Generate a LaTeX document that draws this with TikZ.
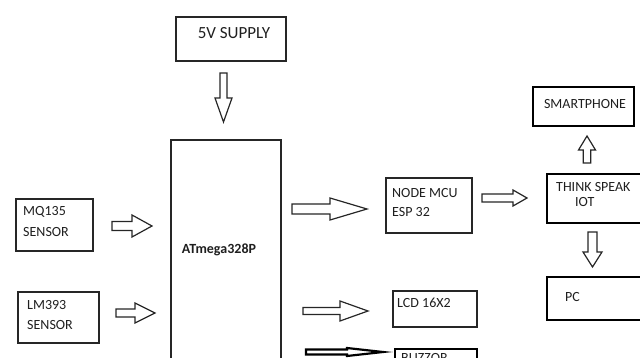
\documentclass[tikz,border=0pt]{standalone}
\usepackage{fontspec}
\setmainfont{Carlito}
\begin{document}
\begin{tikzpicture}[x=1pt,y=-1pt,
  box/.style={draw=black!85,line width=1.2pt},
  tbox/.style={draw=black,line width=2.2pt},
  arr/.style={draw=black!85,line width=1.2pt,fill=white,line join=miter},
  lbl/.style={inner sep=0pt,text=black!88,font=\fontsize{14}{17}\selectfont,anchor=west,align=left}]
\useasboundingbox (0,0) rectangle (640,358);
\clip (0,0) rectangle (640,358);
\newcommand{\blockR}[7][arr]{\draw[#1] (#2,#3-#6) -- (#4,#3-#6) -- (#4,#3-#7) -- (#5,#3) -- (#4,#3+#7) -- (#4,#3+#6) -- (#2,#3+#6) -- cycle;}
\newcommand{\blockV}[6]{\draw[arr] (#1-#5,#2) -- (#1-#5,#3) -- (#1-#6,#3) -- (#1,#4) -- (#1+#6,#3) -- (#1+#5,#3) -- (#1+#5,#2) -- cycle;}
% boxes
\draw[box] (176,17) rectangle (286,61);
\node[lbl,anchor=center,font=\fontsize{17}{20}\selectfont] (sup) at (234,33) {5V SUPPLY};
\draw[box] (16,199) rectangle (93,251);
\node[lbl] (mq) at (23,212) {MQ135};
\node[lbl] (mq2) at (23,232) {SENSOR};
\draw[box] (18,292) rectangle (99,343);
\node[lbl] (lm) at (27,305) {LM393};
\node[lbl] (lm2) at (27,325) {SENSOR};
\draw[box] (171,140) rectangle (281,372);
\node[lbl,anchor=center,font=\fontsize{14}{17}\selectfont\bfseries] (at) at (219,250) {ATmega328P};
\draw[box] (386,178) rectangle (472,233);
\node[lbl] (nm) at (392,193) {NODE MCU};
\node[lbl] (nm2) at (392,212) {ESP 32};
\draw[box] (393,291) rectangle (477,327);
\node[lbl] (lcd) at (397,303) {LCD 16X2};
\draw[tbox] (395,349) rectangle (477,385);
\node[lbl] (bz) at (401,358) {BUZZOR};
\draw[tbox] (533,87) rectangle (634,126);
\node[lbl,anchor=center] (sp) at (585,104) {SMARTPHONE};
\draw[tbox] (547,174) rectangle (660,223);
\node[lbl] (ts) at (556,187) {THINK SPEAK};
\node[lbl] (ts2) at (575,202) {IOT};
\draw[tbox] (547,277) rectangle (660,320);
\node[lbl] (pc) at (565,297) {PC};
% block arrows
\blockV{223.5}{73}{98}{122}{3.5}{8.5}
\blockR{112}{226}{132}{152}{4.5}{11}
\blockR{116}{313}{135}{155}{4}{10}
\blockR{292}{209}{330}{367}{5}{11}
\blockR{303}{311}{340}{368}{3.5}{10}
\blockR[arr,draw=black,line width=2.2pt]{306}{352}{347}{383}{2.5}{4}
\blockR{482}{198}{513}{527}{4}{8}
\blockV{587}{163}{150}{136}{3.7}{8.5}
\blockV{592.5}{232}{252}{267}{4.5}{9.5}
\end{tikzpicture}
\end{document}
